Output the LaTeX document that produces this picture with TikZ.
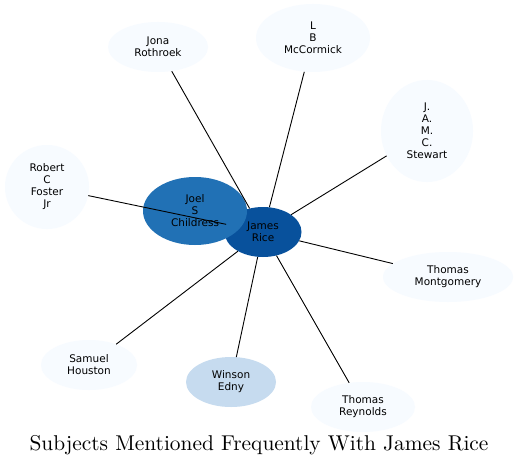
\documentclass[tikz,border=0pt]{standalone}
\usepackage{fontspec}
\usetikzlibrary{shapes.geometric}
\newfontfamily\nodefont{DejaVu Sans}
\definecolor{lightnode}{HTML}{F7FBFF}
\definecolor{paleblue}{HTML}{C6DBEF}
\definecolor{midblue}{HTML}{2171B5}
\definecolor{darkblue}{HTML}{08519C}
\tikzset{
  person/.style={ellipse, inner sep=0pt, align=center, draw=none,
    font=\nodefont\fontsize{10.5}{12}\selectfont, text=black},
  link/.style={draw=black, line width=0.9pt}
}
\begin{document}
\begin{tikzpicture}[x=1pt,y=-1pt]
\useasboundingbox (0,0) rectangle (518,468);
\fill[white] (0,0) rectangle (518,468);
% nodes
\node[person, fill=darkblue, minimum width=77, minimum height=50] (rice) at (263,232) {James\\Rice};
\node[person, fill=midblue, minimum width=104, minimum height=68] (joel) at (195,211) {Joel\\S\\Childress};
\node[person, fill=lightnode, minimum width=100, minimum height=50] (jona) at (158,47) {Jona\\Rothroek};
\node[person, fill=lightnode, minimum width=114, minimum height=68] (mcc) at (313,38) {L\\B\\McCormick};
\node[person, fill=lightnode, minimum width=92, minimum height=102] (stew) at (427,131) {J.\\A.\\M.\\C.\\Stewart};
\node[person, fill=lightnode, minimum width=84, minimum height=84] (fost) at (47,187) {Robert\\C\\Foster\\Jr};
\node[person, fill=lightnode, minimum width=130, minimum height=50] (mont) at (448,277) {Thomas\\Montgomery};
\node[person, fill=lightnode, minimum width=96, minimum height=50] (hous) at (89,365) {Samuel\\Houston};
\node[person, fill=paleblue, minimum width=90, minimum height=50] (edny) at (231,382) {Winson\\Edny};
\node[person, fill=lightnode, minimum width=104, minimum height=50] (reyn) at (363,407) {Thomas\\Reynolds};
% connectors
\draw[link] (rice) -- (jona);
\draw[link] (rice) -- (mcc);
\draw[link] (rice) -- (stew);
\draw[link] (rice) -- (fost);
\draw[link] (rice) -- (mont);
\draw[link] (rice) -- (hous);
\draw[link] (rice) -- (edny);
\draw[link] (rice) -- (reyn);
% title
\node (title) at (259,445) {\scalebox{2.14}{Subjects Mentioned Frequently With James Rice}};
\end{tikzpicture}
\end{document}
